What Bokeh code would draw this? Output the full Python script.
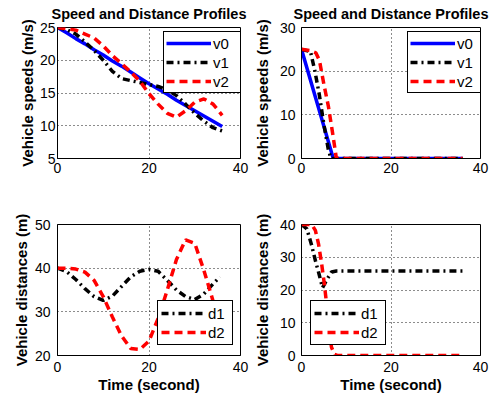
from bokeh.plotting import figure
from bokeh.models import Range1d, Legend, LegendItem, FixedTicker
from bokeh.layouts import column, row
from bokeh.embed import file_html
from bokeh.resources import INLINE

FONT = "Liberation Sans"
TITLE = "Speed and Distance Profiles"
YLAB_SPEED = "Vehicle speeds (m/s)"
YLAB_DIST = "Vehicle distances (m)"
XLAB = "Time (second)"
X_TICKS = [0, 20, 40]

# ---- top-left: speeds, case A ----
t_a = [0, 2, 4, 6, 8, 10, 12, 14, 16, 18, 20, 22, 24, 26, 28, 30, 32, 34, 36]
v0_a = [25, 24.2, 23.3, 22.5, 21.6, 20.8, 19.9, 19.1, 18.2, 17.3, 16.4, 15.6, 14.8, 13.9, 13.1, 12.3, 11.5, 10.7, 9.9]
v1_a = [25, 24.7, 24.0, 22.8, 21.5, 20.0, 18.3, 17.2, 16.9, 16.6, 16.3, 16.0, 15.5, 14.6, 13.3, 11.9, 10.7, 9.7, 9.2]
v2_a = [25, 24.8, 24.6, 24.0, 23.4, 22.2, 20.7, 19.5, 18.2, 16.8, 14.9, 13.3, 11.9, 11.3, 12.3, 13.6, 14.1, 13.3, 11.6]
yticks_a = [5, 10, 15, 20, 25]

# ---- top-right: speeds, case B ----
t_v0_b = [0, 7.1, 36]
v0_b = [25, 0, 0]
t_v1_b = [0, 2, 3, 4, 5, 6, 6.6, 36]
v1_b = [25, 24.5, 20, 14.5, 7.8, 2, 0, 0]
t_v2_b = [0, 2, 3.2, 4, 5, 6, 7, 7.8, 36]
v2_b = [25, 24.7, 24.2, 22.5, 17, 12, 5.5, 0, 0]
yticks_b = [0, 10, 20, 30]

# ---- bottom-left: distances, case A ----
t_d_a = [0, 2, 4, 6, 8, 10, 12, 14, 16, 18, 20, 22, 24, 26, 28, 30, 32, 34, 35.5]
d1_a = [40, 39.2, 37.4, 35.3, 33.5, 32.6, 33.6, 35.8, 38.0, 39.3, 39.7, 39.3, 37.2, 35.0, 33.5, 32.8, 34.1, 36.4, 38.0]
d2_a = [40, 40.0, 39.8, 39.1, 37.2, 33.5, 28.8, 24.5, 21.6, 21.4, 23.3, 28.5, 35.0, 42.0, 46.5, 45.7, 39.5, 32.5, 28.0]
yticks_c = [20, 30, 40, 50]

# ---- bottom-right: distances, case B ----
t_d1_b = [0, 1.2, 2.2, 3.1, 3.8, 4.7, 5.6, 6.7, 7.8, 36]
d1_b = [40, 38.7, 34, 29, 25.5, 20.7, 23, 25.5, 25.8, 25.8]
t_d2_b = [0, 2.3, 3.1, 3.8, 4.5, 5.1, 5.6, 6.1, 6.7, 7.4, 8, 36]
d2_b = [40, 40, 38.2, 34.1, 28, 21.9, 15.8, 8.7, 2.5, 0.3, 0, 0]
yticks_d = [0, 10, 20, 30, 40]

LW = 3.5
DASH_RED = "8 5"
DASH_BLACK = "7 4 2 4"


def make_fig(w, h, yr, yticks, left, right, top, bottom, title=None,
             xlabel=None, ylabel=None, y_std=3, y_lab_std=6, x_std=4, x_lab_std=1):
    p = figure(width=w, height=h, x_range=Range1d(0, 40), y_range=Range1d(*yr),
               output_backend="svg", toolbar_location=None,
               min_border_left=left, min_border_right=right,
               min_border_top=top, min_border_bottom=bottom, title=title)
    p.background_fill_color = "white"
    p.border_fill_color = "white"
    p.outline_line_color = "black"
    p.outline_line_width = 1
    p.outline_line_alpha = 1
    p.xaxis.ticker = FixedTicker(ticks=X_TICKS)
    p.yaxis.ticker = FixedTicker(ticks=yticks)
    for ax in (p.xaxis[0], p.yaxis[0]):
        ax.major_tick_in = 0
        ax.major_tick_out = 0
        ax.minor_tick_line_color = None
        ax.axis_line_color = "black"
        ax.major_label_text_font = FONT
        ax.major_label_text_font_size = "14px"
        ax.major_label_text_color = "black"
        ax.axis_label_text_font = FONT
        ax.axis_label_text_font_size = "15px"
        ax.axis_label_text_font_style = "bold"
        ax.axis_label_text_color = "black"
    p.yaxis.major_label_standoff = y_std
    p.yaxis.axis_label_standoff = y_lab_std
    p.xaxis.major_label_standoff = x_std
    p.xaxis.axis_label_standoff = x_lab_std
    if ylabel:
        p.yaxis.axis_label = ylabel
    if xlabel:
        p.xaxis.axis_label = xlabel
    for g in (p.xgrid[0], p.ygrid[0]):
        g.grid_line_color = "black"
        g.grid_line_dash = "1 3"
        g.grid_line_width = 1
        g.grid_line_alpha = 0.9
    if title:
        p.title.align = "center"
        p.title.vertical_align = "top"
        p.title.text_font = FONT
        p.title.text_font_size = "14.5px"
        p.title.text_font_style = "bold"
        p.title.text_color = "black"
        p.title.standoff = 7
    return p


def add_legend(p, items, loc, padding, glyph_w, label_w, row_h, standoff):
    lg = Legend(items=[LegendItem(label=l, renderers=[r]) for l, r in items],
                location=loc, orientation="vertical", padding=padding, spacing=1,
                margin=0, glyph_width=glyph_w, glyph_height=row_h, label_height=row_h,
                label_width=label_w, label_standoff=standoff,
                border_line_color="black", border_line_width=1, border_line_alpha=1,
                background_fill_color="white", background_fill_alpha=1,
                label_text_font=FONT, label_text_font_size="15px", label_text_color="black")
    p.add_layout(lg, "center")


# top-left
p1 = make_fig(250, 204, (5, 25), yticks_a, 57, 10, 27, 46, title=TITLE,
              ylabel=YLAB_SPEED, y_std=2, y_lab_std=1, x_std=4)
r10 = p1.line(t_a, v0_a, line_color="blue", line_width=LW)
r11 = p1.line(t_a, v1_a, line_color="black", line_width=LW, line_dash=DASH_BLACK)
r12 = p1.line(t_a, v2_a, line_color="red", line_width=LW, line_dash=DASH_RED)
add_legend(p1, [("v0", r10), ("v1", r11), ("v2", r12)], (106, 65), 2, 45, 26, 18, 2)

# top-right
p2 = make_fig(248, 204, (0, 30), yticks_b, 47, 18, 27, 46, title=TITLE,
              ylabel=YLAB_SPEED, y_std=6, y_lab_std=6, x_std=4)
r20 = p2.line(t_v0_b, v0_b, line_color="blue", line_width=LW)
r21 = p2.line(t_v1_b, v1_b, line_color="black", line_width=LW, line_dash=DASH_BLACK)
r22 = p2.line(t_v2_b, v2_b, line_color="red", line_width=LW, line_dash=DASH_RED)
add_legend(p2, [("v0", r20), ("v1", r21), ("v2", r22)], (106, 65), 2, 45, 26, 18, 2)

# bottom-left
p3 = make_fig(250, 193, (20, 50), yticks_c, 57, 10, 20, 42,
              ylabel=YLAB_DIST, xlabel=XLAB, y_std=7, y_lab_std=2, x_std=6, x_lab_std=1)
r31 = p3.line(t_d_a, d1_a, line_color="black", line_width=LW, line_dash=DASH_BLACK)
r32 = p3.line(t_d_a, d2_a, line_color="red", line_width=LW, line_dash=DASH_RED)
add_legend(p3, [("d1", r31), ("d2", r32)], (100, 10), 3, 45, 21, 18, 2)

# bottom-right
p4 = make_fig(248, 193, (0, 40), yticks_d, 47, 18, 20, 42,
              ylabel=YLAB_DIST, xlabel=XLAB, y_std=6, y_lab_std=6, x_std=6, x_lab_std=1)
r41 = p4.line(t_d1_b, d1_b, line_color="black", line_width=LW, line_dash=DASH_BLACK)
r42 = p4.line(t_d2_b, d2_b, line_color="red", line_width=LW, line_dash=DASH_RED)
add_legend(p4, [("d1", r41), ("d2", r42)], (9, 10), 3, 45, 21, 18, 2)

layout = column(row(p1, p2), row(p3, p4))

with open("out.html", "w") as f:
    f.write(file_html(layout, INLINE))
